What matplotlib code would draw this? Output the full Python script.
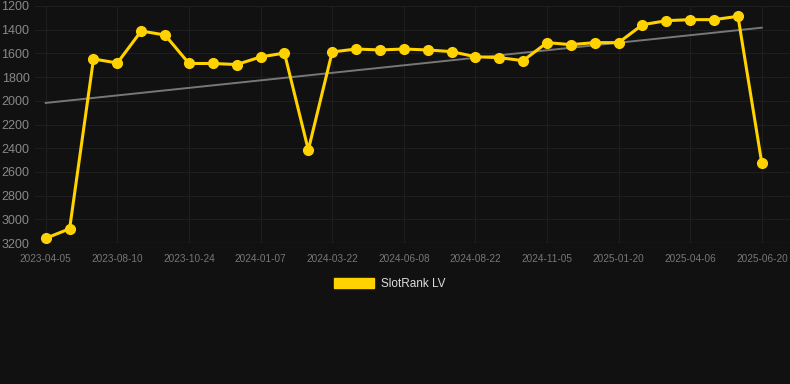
import matplotlib
matplotlib.use("Agg")
import matplotlib.pyplot as plt
from matplotlib.patches import Patch
import numpy as np

# rank values (lower = better, axis inverted)
ranks = [3160, 3080, 1647, 1681, 1411, 1445, 1685, 1685, 1694, 1630, 1597,
         2415, 1588, 1563, 1571, 1563, 1571, 1585, 1628, 1636, 1661, 1509,
         1526, 1509, 1509, 1358, 1324, 1315, 1315, 1287, 2528]
tick_labels = ["2023-04-05", "2023-08-10", "2023-10-24", "2024-01-07", "2024-03-22",
               "2024-06-08", "2024-08-22", "2024-11-05", "2025-01-20", "2025-04-06",
               "2025-06-20"]
trend_ends = [2018, 1383]
series_name = "SlotRank LV"

BG = "#111111"
GOLD = "#FFD200"

plt.rcParams["font.family"] = ["Liberation Sans", "DejaVu Sans"]

fig = plt.figure(figsize=(7.9, 3.84), dpi=100, facecolor=BG)
ax = fig.add_axes([35 / 790, 1 - 243 / 384, 755 / 790, 237 / 384], facecolor=BG)

x = np.arange(len(ranks))
ax.plot([x[0], x[-1]], trend_ends, color="#777777", lw=1.4, zorder=2)
ax.plot(x, ranks, color=GOLD, lw=2.2, marker="o", ms=7, zorder=3)

ax.set_xlim(-0.45, 31.18)
ax.set_ylim(3200, 1200)
ax.set_yticks(np.arange(1200, 3201, 200))
ax.set_xticks(x[::3])
ax.set_xticklabels(tick_labels)

ax.grid(True, color="#1e1e1e", lw=0.8)
ax.axhline(3200, color="#2b2b2b", lw=0.9, zorder=1)
ax.set_axisbelow(True)
for s in ax.spines.values():
    s.set_visible(False)
ax.tick_params(axis="y", colors="#888888", labelsize=9, length=0, pad=4)
ax.tick_params(axis="x", colors="#777777", labelsize=7.2, length=0, pad=8)

handle = Patch(facecolor=GOLD, edgecolor=GOLD)
fig.legend([handle], [series_name], loc="center", bbox_to_anchor=(390 / 790, 1 - 284 / 384),
           frameon=False, fontsize=8.5, labelcolor="#dddddd",
           handlelength=3.4, handleheight=0.9, handletextpad=0.6)

fig.savefig("out.png", dpi=100, facecolor=BG)
